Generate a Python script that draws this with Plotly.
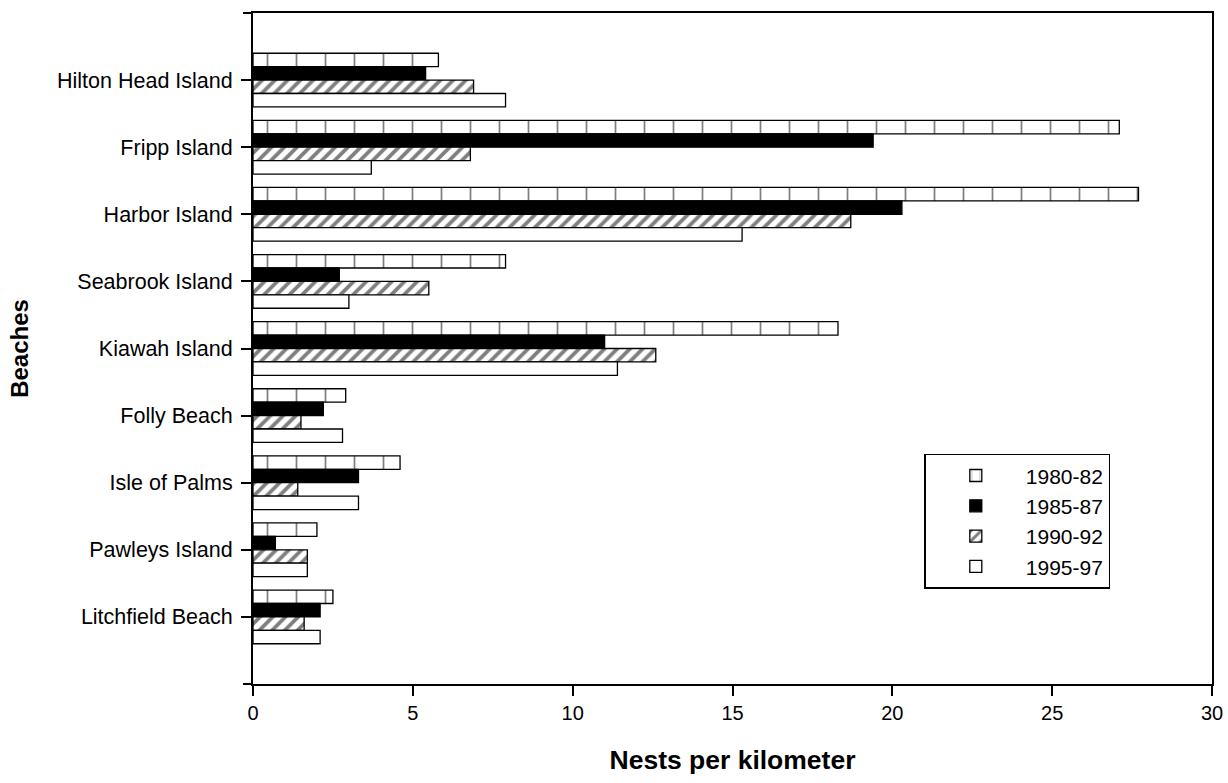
import plotly.graph_objects as go

# ---- data ----
beaches = ["Hilton Head Island", "Fripp Island", "Harbor Island", "Seabrook Island",
           "Kiawah Island", "Folly Beach", "Isle of Palms", "Pawleys Island",
           "Litchfield Beach"]
periods = ["1980-82", "1985-87", "1990-92", "1995-97"]
v_1980_82 = [5.8, 27.1, 27.7, 7.9, 18.3, 2.9, 4.6, 2.0, 2.5]
v_1985_87 = [5.4, 19.4, 20.3, 2.7, 11.0, 2.2, 3.3, 0.7, 2.1]
v_1990_92 = [6.9, 6.8, 18.7, 5.5, 12.6, 1.5, 1.4, 1.7, 1.6]
v_1995_97 = [7.9, 3.7, 15.3, 3.0, 11.4, 2.8, 3.3, 1.7, 2.1]
x_ticks = [0, 5, 10, 15, 20, 25, 30]

series = [v_1980_82, v_1985_87, v_1990_92, v_1995_97]

# ---- styles ----
FONT = "Liberation Sans, Arial, Helvetica, sans-serif"
styles = [
    dict(color="white", pattern=dict(shape="|", size=29, solidity=0.06, fgcolor="black", bgcolor="white", fillmode="overlay")),
    dict(color="black"),
    dict(color="white", pattern=dict(shape="/", size=9, solidity=0.42, fgcolor="black", bgcolor="white", fillmode="overlay")),
    dict(color="white"),
]

fig = go.Figure()
for name, vals, st in zip(periods, series, styles):
    marker = dict(line=dict(color="black", width=1.3), **st)
    fig.add_trace(go.Bar(name=name, x=vals, y=beaches, orientation="h", marker=marker))

fig.update_layout(
    width=1228, height=783,
    margin=dict(l=253, r=16, t=13, b=99, autoexpand=False),
    paper_bgcolor="white", plot_bgcolor="white",
    barmode="group", bargap=0.2, bargroupgap=0.0,
    font=dict(family=FONT, size=20, color="black"),
    showlegend=True,
    legend=dict(x=0.70, y=0.343, xanchor="left", yanchor="top",
                bordercolor="black", borderwidth=1.5, bgcolor="white",
                font=dict(size=21, family=FONT), itemwidth=90,
                traceorder="normal"),
    xaxis=dict(range=[0, 30], tickvals=x_ticks, ticktext=[str(t) for t in x_ticks],
               ticks="outside", ticklen=10, tickwidth=2, tickcolor="black",
               showline=True, linecolor="black", linewidth=2, mirror=True,
               showgrid=False, zeroline=False, tickfont=dict(size=20),
               title=dict(text="<b>Nests per kilometer</b>", font=dict(size=26.5), standoff=27),
               automargin=False),
    yaxis=dict(type="category", categoryorder="array", categoryarray=beaches,
               range=[9, -1], ticks="outside", ticklen=10, tickwidth=2, tickcolor="black",
               showline=True, linecolor="black", linewidth=2, mirror=True,
               showgrid=False, zeroline=False, tickfont=dict(size=21.5),
               ticklabelstandoff=4,
               title=dict(text="<b>Beaches</b>", font=dict(size=24), standoff=22),
               automargin=False),
    shapes=[
        dict(type="line", xref="paper", yref="paper", xsizemode="pixel", xanchor=0,
             x0=-10, x1=0, y0=1, y1=1, line=dict(color="black", width=2)),
        dict(type="line", xref="paper", yref="paper", xsizemode="pixel", xanchor=0,
             x0=-10, x1=0, y0=0, y1=0, line=dict(color="black", width=2)),
    ],
)

fig.write_html(
    "out.html",
    config={"displayModeBar": False},
    default_width="1228px",
    default_height="783px",
    post_script="document.body.style.margin='0';document.documentElement.style.overflow='hidden';document.body.style.overflow='hidden';",
)
